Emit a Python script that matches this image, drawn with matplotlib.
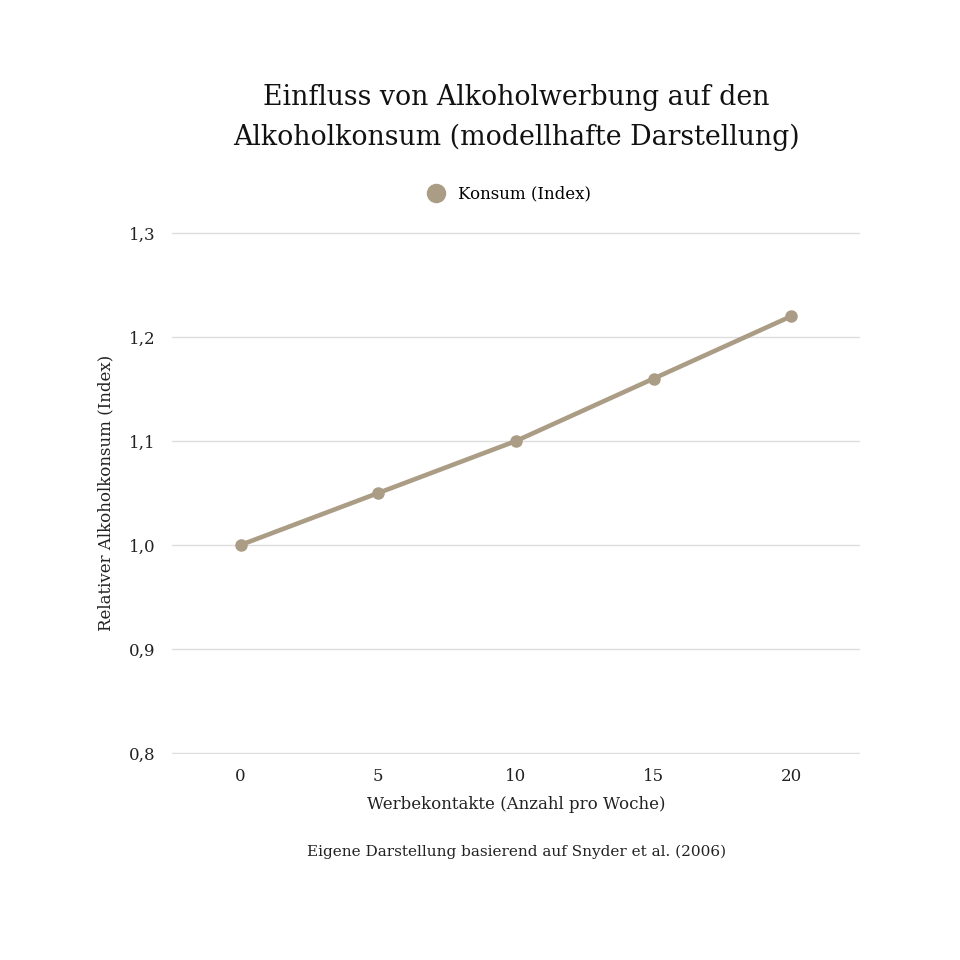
import matplotlib
matplotlib.use("Agg")
import matplotlib.pyplot as plt
from matplotlib.ticker import FuncFormatter

x_kontakte = [0, 5, 10, 15, 20]
konsum_index = [1.00, 1.05, 1.10, 1.16, 1.22]
y_ticks = [0.8, 0.9, 1.0, 1.1, 1.2, 1.3]

title = "Einfluss von Alkoholwerbung auf den\nAlkoholkonsum (modellhafte Darstellung)"
series_name = "Konsum (Index)"
xlabel = "Werbekontakte (Anzahl pro Woche)"
ylabel = "Relativer Alkoholkonsum (Index)"
source = "Eigene Darstellung basierend auf Snyder et al. (2006)"

plt.rcParams['font.family'] = ['DejaVu Serif']
color = "#ab9d85"

fig = plt.figure(figsize=(9.6, 9.6), dpi=100)
ax = fig.add_axes([0.179, 0.2146, 0.717, 0.5438])
ax.plot(x_kontakte, konsum_index, color=color, lw=3.3, marker='o', ms=8,
        label=series_name, solid_capstyle='round')
ax.set_xlim(-2.5, 22.5)
ax.set_ylim(0.799, 1.301)
ax.set_yticks(y_ticks)
ax.set_xticks(x_kontakte)
ax.yaxis.set_major_formatter(FuncFormatter(lambda v, p: f"{v:.1f}".replace('.', ',')))
for s in ax.spines.values():
    s.set_visible(False)
ax.grid(axis='y', color='#dddddd', lw=1)
ax.set_axisbelow(True)
ax.tick_params(length=0, labelsize=12, colors='#222222', pad=10)
ax.tick_params(axis='y', pad=12)
ax.set_xlabel(xlabel, fontsize=12, color='#222222', labelpad=8)
ax.set_ylabel(ylabel, fontsize=12, color='#222222', labelpad=10)
fig.text(0.538, 0.878, title, ha='center', va='center', fontsize=19.3, color='#111111', linespacing=1.6)
leg = fig.legend(handles=[plt.Line2D([], [], ls='', marker='o', ms=13, color=color)],
                 labels=[series_name], loc='center', bbox_to_anchor=(0.526, 0.798),
                 frameon=False, fontsize=12, handletextpad=0.3)
fig.text(0.538, 0.113, source, ha='center', va='center', fontsize=11, color='#222222')
fig.savefig("out.png", dpi=100, facecolor='white')
